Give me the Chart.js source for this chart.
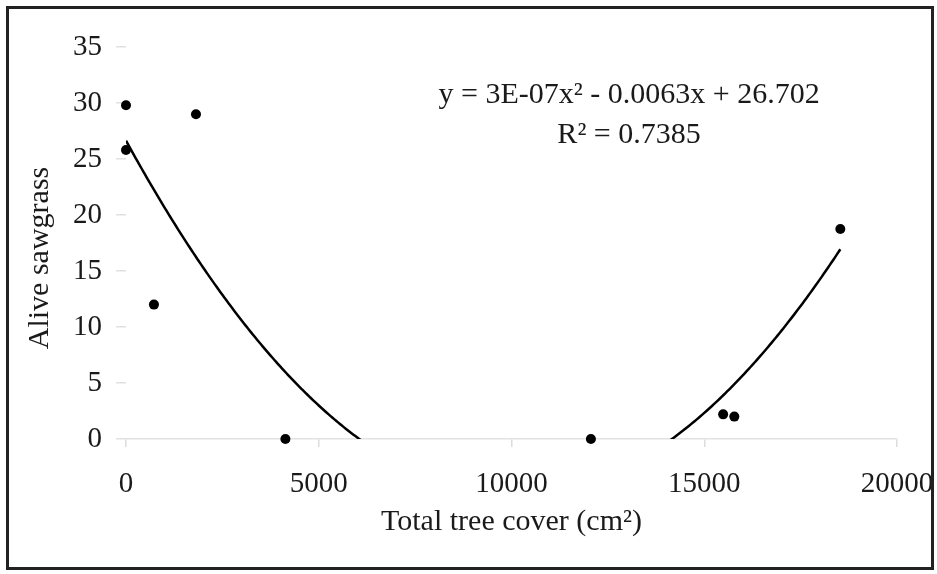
<!DOCTYPE html>
<html>
<head>
<meta charset="utf-8">
<script src="https://cdn.jsdelivr.net/npm/chart.js@4/dist/chart.umd.min.js"></script>
<style>
  html, body { margin: 0; padding: 0; background: #fff; }
  #wrap { position: relative; width: 937px; height: 574px; }
  #frame { position: absolute; left: 6px; top: 6px; width: 928px; height: 564px;
           border: 3px solid #222; box-sizing: border-box; pointer-events: none; }
</style>
</head>
<body>
<div id="wrap">
  <canvas id="myChart" width="937" height="574"></canvas>
  <div id="frame"></div>
</div>
<script>
// values
const treeCover = [0, 0, 725, 1815, 4135, 12060, 15490, 15780, 18530];
const sawgrass  = [29.8, 25.8, 12, 29, 0, 0, 2.2, 2.0, 18.75];
const xTicks = [0, 5000, 10000, 15000, 20000];
const yTicks = [0, 5, 10, 15, 20, 25, 30, 35];
const equationLines = ['y = 3E-07x\u00B2 - 0.0063x + 26.702', 'R\u00B2 = 0.7385'];

const serif = 'Liberation Serif';
const textColor = '#1a1a1a';

// least squares fit of y = a x^2 + b x + c (the trendline)
function polyFit2(xs, ys) {
  let s = [0, 0, 0, 0, 0], t = [0, 0, 0];
  for (let i = 0; i < xs.length; i++) {
    const x = xs[i] / 1000, y = ys[i];
    for (let k = 0; k < 5; k++) s[k] += Math.pow(x, k);
    for (let k = 0; k < 3; k++) t[k] += Math.pow(x, k) * y;
  }
  // rows: [c, b, a]
  let m = [
    [s[0], s[1], s[2], t[0]],
    [s[1], s[2], s[3], t[1]],
    [s[2], s[3], s[4], t[2]]
  ];
  for (let i = 0; i < 3; i++) {
    for (let j = i + 1; j < 3; j++) {
      const f = m[j][i] / m[i][i];
      for (let k = i; k < 4; k++) m[j][k] -= f * m[i][k];
    }
  }
  let r = [0, 0, 0];
  for (let i = 2; i >= 0; i--) {
    let v = m[i][3];
    for (let k = i + 1; k < 3; k++) v -= m[i][k] * r[k];
    r[i] = v / m[i][i];
  }
  return x => { const u = x / 1000; return r[0] + r[1] * u + r[2] * u * u; };
}

const fit = polyFit2(treeCover, sawgrass);
const xLo = Math.min(...treeCover), xHi = Math.max(...treeCover);
const trend = [];
for (let x = xLo; x < xHi; x += 50) trend.push({ x: x, y: fit(x) });
trend.push({ x: xHi, y: fit(xHi) });

const points = treeCover.map((x, i) => ({ x: x, y: sawgrass[i] }));

const equationText = {
  id: 'equationText',
  afterDraw(chart) {
    const ctx = chart.ctx;
    const xs = chart.scales.x, ys = chart.scales.y;
    ctx.save();
    ctx.font = '30px "' + serif + '"';
    ctx.fillStyle = textColor;
    ctx.textAlign = 'center';
    ctx.textBaseline = 'alphabetic';
    const cx = xs.getPixelForValue(13050);
    ctx.fillText(equationLines[0], cx, ys.getPixelForValue(30));
    ctx.fillText(equationLines[1], cx, ys.getPixelForValue(26.45));
    ctx.restore();
  }
};

let myChart = document.getElementById('myChart').getContext('2d');

let chart = new Chart(myChart, {
  type: 'scatter',
  data: {
    datasets: [
      {
        label: 'trend',
        type: 'line',
        data: trend,
        showLine: true,
        borderColor: '#000',
        borderWidth: 2.5,
        pointRadius: 0,
        tension: 0,
        fill: false
      },
      {
        label: 'Alive sawgrass',
        data: points,
        clip: false,
        pointRadius: 5,
        pointBackgroundColor: '#000',
        pointBorderWidth: 0
      }
    ]
  },
  plugins: [equationText],
  options: {
    responsive: false,
    animation: false,
    layout: { padding: { top: 47, right: 40, left: 0, bottom: 0 } },
    plugins: {
      legend: { display: false },
      tooltip: { enabled: false }
    },
    scales: {
      x: {
        type: 'linear',
        min: 0,
        max: 20000,
        afterBuildTicks: s => { s.ticks = xTicks.map(v => ({ value: v })); },
        afterFit: s => { s.height = 135; s.paddingLeft = 0; s.paddingRight = 0; },
        ticks: {
          font: { family: serif, size: 29 },
          color: textColor,
          padding: 20,
          maxRotation: 0,
          callback: v => String(v)
        },
        grid: {
          drawOnChartArea: false,
          drawTicks: true,
          tickLength: 8,
          color: '#dcdcdc',
          lineWidth: 1.5
        },
        border: { display: true, color: '#e2e2e2', width: 1.5 },
        title: {
          display: true,
          text: 'Total tree cover (cm\u00B2)',
          font: { family: serif, size: 30 },
          color: textColor,
          padding: { top: 0, bottom: 34 }
        }
      },
      y: {
        min: 0,
        max: 35,
        afterBuildTicks: s => { s.ticks = yTicks.map(v => ({ value: v })); },
        afterFit: s => { s.width = 126; s.paddingTop = 0; s.paddingBottom = 0; },
        ticks: {
          font: { family: serif, size: 29 },
          color: textColor,
          padding: 14
        },
        grid: {
          drawOnChartArea: false,
          drawTicks: true,
          tickLength: 10,
          color: '#e0e0e0',
          lineWidth: 1.5
        },
        border: { display: false },
        title: {
          display: true,
          text: 'Alive sawgrass    ',
          font: { family: serif, size: 30 },
          color: textColor,
          padding: { top: 22, bottom: 0 }
        }
      }
    }
  }
});
</script>
</body>
</html>
